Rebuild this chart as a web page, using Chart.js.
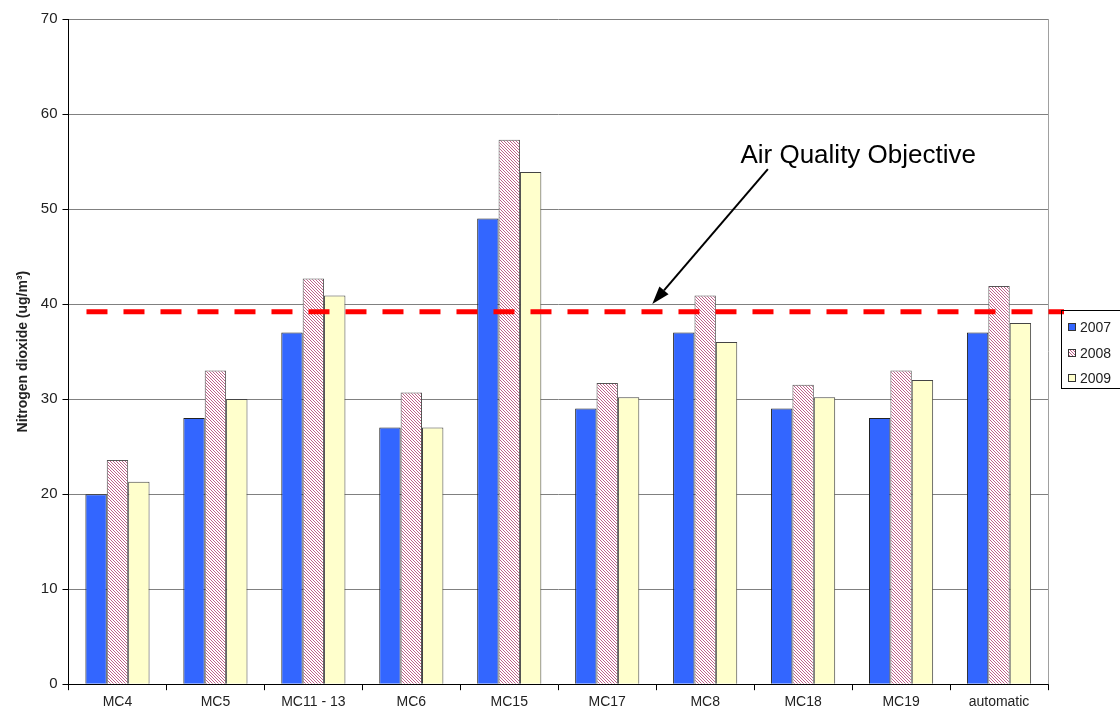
<!DOCTYPE html>
<html>
<head>
<meta charset="utf-8">
<script src="https://cdn.jsdelivr.net/npm/chart.js@4.4.0/dist/chart.umd.min.js"></script>
<style>
  html, body { margin: 0; padding: 0; background: #fff; }
  #wrap { width: 1120px; height: 715px; }
</style>
</head>
<body>
<div id="wrap"><canvas id="chart" width="1120" height="715"></canvas></div>
<script>
// 数据
const sites = ['MC4', 'MC5', 'MC11 - 13', 'MC6', 'MC15', 'MC17', 'MC8', 'MC18', 'MC19', 'automatic'];
const values2007 = [20, 28, 37, 27, 49, 29, 37, 29, 28, 37];
const values2008 = [23.6, 33, 42.7, 30.7, 57.3, 31.7, 40.9, 31.5, 33, 41.9];
const values2009 = [21.3, 30, 40.9, 27, 53.9, 30.2, 36, 30.2, 32, 38];
const objectiveLevel = 39.2;
const objectiveLabel = 'Air Quality Objective';

// 斜线填充
function makeHatch() {
    const c = document.createElement('canvas');
    c.width = 3; c.height = 3;
    const g = c.getContext('2d');
    g.fillStyle = '#ffffff';
    g.fillRect(0, 0, 3, 3);
    g.strokeStyle = '#c0608a';
    g.lineWidth = 1;
    g.beginPath();
    g.moveTo(-1, -1); g.lineTo(4, 4);
    g.moveTo(-1, 2); g.lineTo(1, 4);
    g.moveTo(2, -1); g.lineTo(4, 1);
    g.stroke();
    return g.createPattern(c, 'repeat');
}
const hatch = makeHatch();

// 目标线、箭头、边框、图例
const extrasPlugin = {
    id: 'extras',
    afterDraw(chart) {
        const ctx = chart.ctx;
        const area = chart.chartArea;
        const x = chart.scales.x;
        const y = chart.scales.y;

        // 右边框
        ctx.save();
        ctx.strokeStyle = '#a0a0a0';
        ctx.lineWidth = 1;
        ctx.beginPath();
        ctx.moveTo(Math.round(area.right) + 0.5, area.top);
        ctx.lineTo(Math.round(area.right) + 0.5, area.bottom);
        ctx.stroke();

        // 红色虚线
        const yLine = y.getPixelForValue(objectiveLevel);
        ctx.strokeStyle = '#ff0000';
        ctx.lineWidth = 5;
        ctx.setLineDash([21, 16]);
        ctx.beginPath();
        ctx.moveTo(area.left + 18, yLine);
        ctx.lineTo(area.right + 16, yLine);
        ctx.stroke();
        ctx.setLineDash([]);

        // 箭头
        const step = x.getPixelForValue(1) - x.getPixelForValue(0);
        const tipX = x.getPixelForValue(5) + step * 0.46;
        const tipY = y.getPixelForValue(40.0);
        const startX = x.getPixelForValue(6) + step * 0.64;
        const startY = y.getPixelForValue(54.2);
        const ang = Math.atan2(tipY - startY, tipX - startX);
        const headLen = 18, headW = 6;
        const baseX = tipX - headLen * Math.cos(ang);
        const baseY = tipY - headLen * Math.sin(ang);
        ctx.strokeStyle = '#000';
        ctx.fillStyle = '#000';
        ctx.lineWidth = 2;
        ctx.beginPath();
        ctx.moveTo(startX, startY);
        ctx.lineTo(baseX, baseY);
        ctx.stroke();
        ctx.beginPath();
        ctx.moveTo(tipX, tipY);
        ctx.lineTo(baseX + headW * Math.sin(ang), baseY - headW * Math.cos(ang));
        ctx.lineTo(baseX - headW * Math.sin(ang), baseY + headW * Math.cos(ang));
        ctx.closePath();
        ctx.fill();

        // 标注文字
        ctx.font = '26px "Liberation Sans", Arial, sans-serif';
        ctx.textBaseline = 'alphabetic';
        ctx.textAlign = 'left';
        ctx.fillText(objectiveLabel, x.getPixelForValue(6) + step * 0.36, y.getPixelForValue(54.8));

        // 图例
        const lx = Math.round(area.right) + 13;
        const ly = Math.round(chart.height / 2) - 48;
        ctx.strokeStyle = '#000';
        ctx.lineWidth = 1;
        ctx.strokeRect(lx + 0.5, ly + 0.5, 62, 78);
        ctx.font = '14px "Liberation Sans", Arial, sans-serif';
        ctx.textBaseline = 'middle';
        chart.data.datasets.forEach(function(ds, i) {
            const cy = ly + 17 + i * 25.7;
            ctx.fillStyle = ds.backgroundColor;
            ctx.fillRect(lx + 7, Math.round(cy - 4), 8, 8);
            ctx.strokeStyle = '#333';
            ctx.strokeRect(lx + 7.5, Math.round(cy - 4) + 0.5, 7, 7);
            ctx.fillStyle = '#222';
            ctx.fillText(ds.label, lx + 19, cy + 1);
        });
        ctx.restore();
    }
};

Chart.defaults.font.family = '"Liberation Sans", Arial, sans-serif';
Chart.defaults.color = '#222';

new Chart(document.getElementById('chart').getContext('2d'), {
    type: 'bar',
    data: {
        labels: sites,
        datasets: [{
            label: '2007',
            data: values2007,
            backgroundColor: '#3366ff',
            borderColor: '#222',
            borderWidth: 1
        }, {
            label: '2008',
            data: values2008,
            backgroundColor: hatch,
            borderColor: '#555',
            borderWidth: 1
        }, {
            label: '2009',
            data: values2009,
            backgroundColor: '#ffffcc',
            borderColor: '#444',
            borderWidth: 1
        }]
    },
    options: {
        responsive: false,
        animation: false,
        layout: { padding: { top: 19, right: 72, bottom: 0, left: 8 } },
        datasets: {
            bar: { barPercentage: 1, categoryPercentage: 0.655 }
        },
        plugins: {
            legend: { display: false },
            tooltip: { enabled: false }
        },
        scales: {
            x: {
                grid: {
                    offset: true,
                    drawOnChartArea: false,
                    tickLength: 6,
                    tickColor: '#000'
                },
                border: { color: '#000' },
                ticks: { font: { size: 14 }, padding: 4, maxRotation: 0, autoSkip: false }
            },
            y: {
                min: 0,
                max: 70,
                ticks: { stepSize: 10, font: { size: 15 }, padding: 5 },
                grid: {
                    color: '#808080',
                    tickLength: 6,
                    tickColor: '#000'
                },
                border: { color: '#000' },
                title: {
                    display: true,
                    text: 'Nitrogen dioxide (ug/m\u00b3)',
                    font: { size: 14, weight: 'bold' },
                    padding: { top: 7, bottom: 4 }
                }
            }
        }
    },
    plugins: [extrasPlugin]
});
</script>
</body>
</html>
